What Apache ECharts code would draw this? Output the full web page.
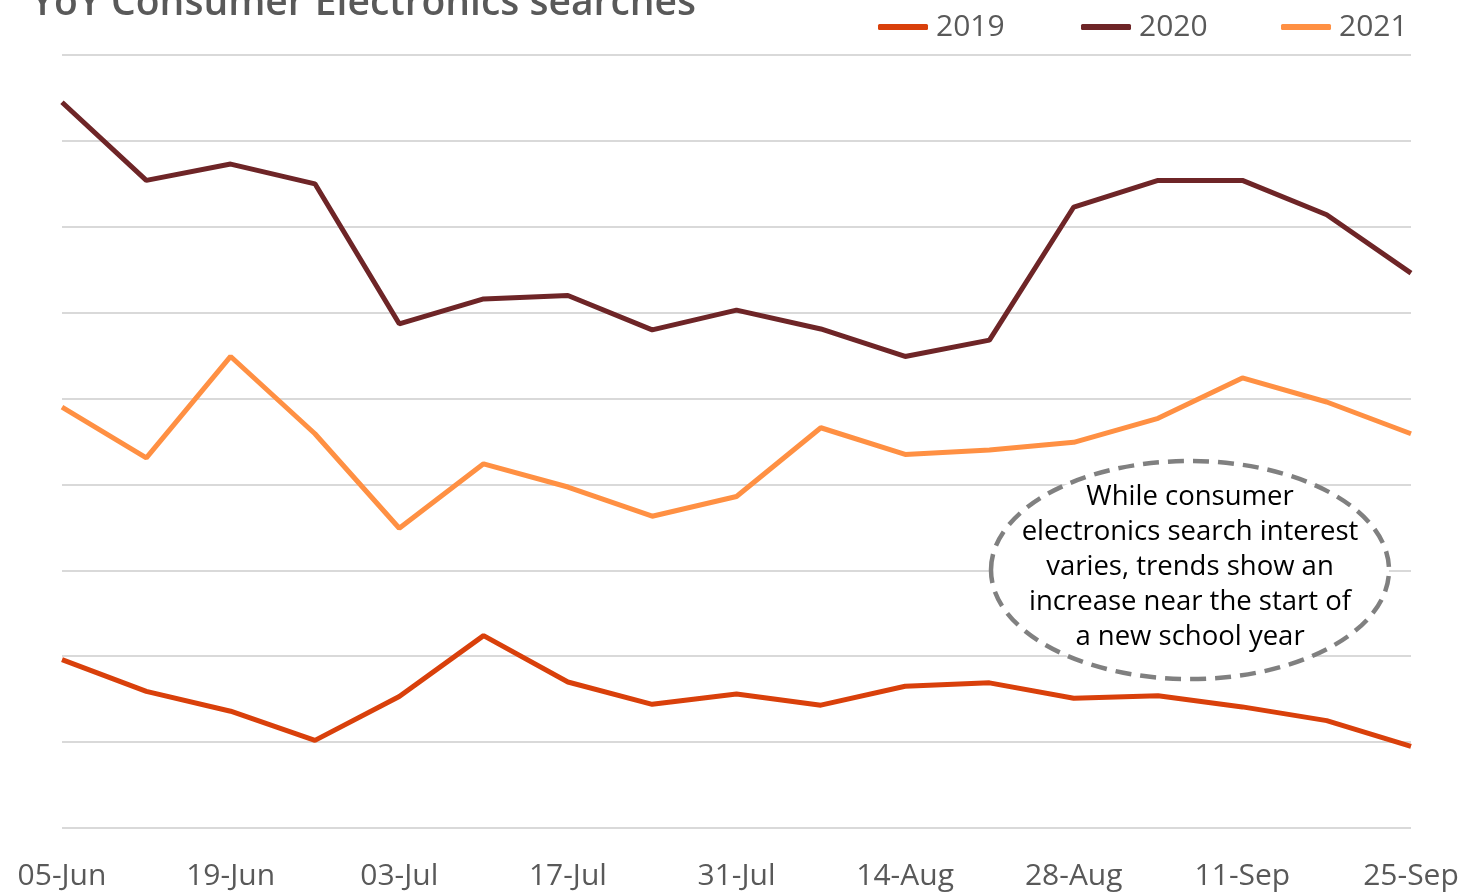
<!DOCTYPE html>
<html><head><meta charset="utf-8">
<script src="https://cdn.jsdelivr.net/npm/echarts@6/dist/echarts.min.js"></script>
<style>html,body{margin:0;padding:0;background:#fff}#c{width:1465px;height:893px}</style>
</head><body><div id="c"></div>
<script>
const categories = ['05-Jun','12-Jun','19-Jun','26-Jun','03-Jul','10-Jul','17-Jul','24-Jul','31-Jul','07-Aug','14-Aug','21-Aug','28-Aug','04-Sep','11-Sep','18-Sep','25-Sep'];
const s2019 = [19.6,15.9,13.6,10.2,15.3,22.4,17.0,14.4,15.6,14.3,16.5,16.9,15.1,15.4,14.1,12.5,9.5];
const s2020 = [84.5,75.4,77.3,75.0,58.7,61.6,62.0,58.0,60.3,58.1,54.9,56.8,72.3,75.4,75.4,71.4,64.6];
const s2021 = [49.0,43.1,54.9,45.9,34.9,42.4,39.7,36.3,38.6,46.6,43.5,44.0,44.9,47.7,52.4,49.6,45.9];
const annotationLines = ['While consumer','electronics search interest','varies, trends show an','increase near the start of','a new school year'];

const chart = echarts.init(document.getElementById('c'));
const font = '"Open Sans", "Noto Sans", sans-serif';
const legendText = {fontFamily:font,fontSize:30,color:'#595959',padding:[0,0,0,3]};
const legendBase = {top:7,itemWidth:50,itemHeight:6,icon:'roundRect',textStyle:legendText};
chart.setOption({
  animation:false,
  title:{text:'YoY Consumer Electronics searches',left:26,top:-21,textStyle:{fontFamily:font,fontSize:39,color:'#595959',fontWeight:600}},
  legend:[
    Object.assign({left:873,data:['2019']},legendBase),
    Object.assign({left:1076,data:['2020']},legendBase),
    Object.assign({left:1276,data:['2021']},legendBase)
  ],
  grid:{left:62,right:54,top:55,bottom:65},
  xAxis:{type:'category',data:categories,boundaryGap:false,
    axisLine:{show:false},axisTick:{show:false},
    axisLabel:{interval:1,fontFamily:font,fontSize:30,color:'#595959',margin:33,hideOverlap:false}},
  yAxis:{type:'value',min:0,max:90,interval:10,axisLabel:{show:false},axisLine:{show:false},axisTick:{show:false},
    splitLine:{lineStyle:{color:'#d9d9d9',width:2}}},
  series:[
    {name:'2019',type:'line',data:s2019,symbol:'none',lineStyle:{width:5,color:'#D9400B'},itemStyle:{color:'#D9400B'}},
    {name:'2020',type:'line',data:s2020,symbol:'none',lineStyle:{width:5,color:'#6E2527'},itemStyle:{color:'#6E2527'}},
    {name:'2021',type:'line',data:s2021,symbol:'none',lineStyle:{width:5,color:'#FF9043'},itemStyle:{color:'#FF9043'}}
  ],
  graphic:[
    {type:'ellipse',shape:{cx:1190,cy:570,rx:199,ry:109},style:{fill:'#fff',stroke:'#808080',lineWidth:4.5,lineDash:[16,9]},z:100},
    {type:'text',x:1190,y:567,z:101,style:{text:annotationLines.join('\n'),fontFamily:font,fontSize:27.5,lineHeight:35,fill:'#000',align:'center',verticalAlign:'middle'}}
  ]
});
</script></body></html>
